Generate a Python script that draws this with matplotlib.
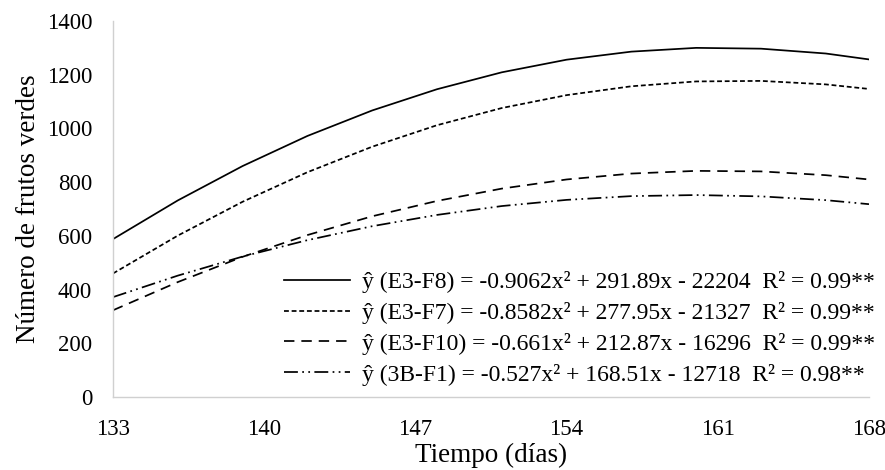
import matplotlib
matplotlib.use("Agg")
import matplotlib.pyplot as plt

plt.rcParams['font.family'] = ['Liberation Serif', 'DejaVu Serif']

# values (days after planting)
dias = [133, 136, 139, 142, 145, 148, 151, 154, 157, 160, 163, 166, 168]
e3_f8 = [588, 732, 860, 972, 1067, 1146, 1209, 1256, 1286, 1300, 1297, 1279, 1257]
e3_f7 = [460, 601, 727, 837, 932, 1012, 1076, 1124, 1157, 1175, 1177, 1164, 1147]
e3_f10 = [323, 428, 522, 603, 673, 730, 776, 810, 832, 842, 840, 826, 810]
b3_f1 = [372, 452, 523, 584, 636, 678, 711, 734, 748, 752, 747, 733, 718]

labels = [
    "ŷ (E3-F8) = -0.9062x² + 291.89x - 22204  R² = 0.99**",
    "ŷ (E3-F7) = -0.8582x² + 277.95x - 21327  R² = 0.99**",
    "ŷ (E3-F10) = -0.661x² + 212.87x - 16296  R² = 0.99**",
    "ŷ (3B-F1) = -0.527x² + 168.51x - 12718  R² = 0.98**",
]
x_ticks = [133, 140, 147, 154, 161, 168]
y_ticks = [0, 200, 400, 600, 800, 1000, 1200, 1400]

fig = plt.figure(figsize=(8.85, 4.7), dpi=100)
ax = fig.add_axes([0.1277, 0.1553, 0.8542, 0.80])

lw = 1.25
ax.plot(dias, e3_f8, color='black', lw=lw, label=labels[0])
ax.plot(dias, e3_f7, color='black', lw=lw, dashes=(2.8, 1.6), label=labels[1])
ax.plot(dias, e3_f10, color='black', lw=lw, dashes=(6.0, 4.0), label=labels[2])
ax.plot(dias, b3_f1, color='black', lw=lw, dashes=(8.0, 2.5, 1.0, 2.5, 1.0, 2.5), label=labels[3])

ax.set_xlim(133, 168)
ax.set_ylim(0, 1400)
ax.set_xticks(x_ticks)
ax.set_yticks(y_ticks)
ax.tick_params(axis='both', length=0, labelsize=16.5)
ax.tick_params(axis='x', pad=16)
ax.tick_params(axis='y', pad=15)

for s in ['top', 'right']:
    ax.spines[s].set_visible(False)
for s in ['left', 'bottom']:
    ax.spines[s].set_color('#d0d0d0')
    ax.spines[s].set_linewidth(1.0)

ax.set_xlabel("Tiempo (días)", fontsize=19.5, labelpad=2)
ax.set_ylabel("Número de frutos verdes", fontsize=19.5, labelpad=4)

ax.legend(loc='lower right', bbox_to_anchor=(1.008, 0.03), frameon=False,
          fontsize=17, handlelength=2.8, handletextpad=0.5, labelspacing=0.38,
          borderpad=0, borderaxespad=0)

fig.savefig('out.png', dpi=100)
